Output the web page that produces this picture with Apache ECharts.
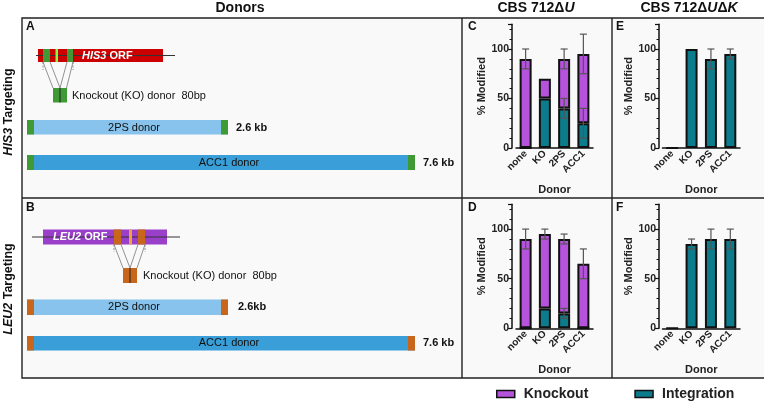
<!DOCTYPE html>
<html><head><meta charset="utf-8">
<script src="https://cdn.jsdelivr.net/npm/echarts@6/dist/echarts.min.js"></script>
<style>html,body{margin:0;padding:0;background:#fff}#c{width:764px;height:402px}</style>
</head><body><div id="c"></div>
<script>
// ---- data ----
const categories = ['none', 'KO', '2PS', 'ACC1'];
// Panel C (CBS 712ΔU, HIS3)
const integC = [0, 50, 40, 25];
const knockC = [90, 20, 50, 70];
const errTopC = [[80, 100], null, [80, 100], [75, 115]];
const errIntC = [null, null, [30, 50], [10, 40]];
// Panel E (CBS 712ΔUΔK, HIS3)
const integE = [0, 100, 90, 95];
const errE = [null, null, [80, 100], [90, 100]];
// Panel D (CBS 712ΔU, LEU2)
const integD = [0, 20, 15, 0];
const knockD = [90, 75, 75, 65];
const errTopD = [[80, 100], [90, 100], [85, 95], [50, 80]];
const errIntD = [null, null, [10, 20], null];
// Panel F (CBS 712ΔUΔK, LEU2)
const integF = [0, 85, 90, 90];
const errF = [null, [80, 90], [80, 100], [80, 100]];
const yTicks = [0, 50, 100];

// ---- style ----
const FONT = '"Liberation Sans", Arial, sans-serif';
const PURPLE = '#b553dc', TEAL = '#0c7b8b';
const chart = echarts.init(document.getElementById('c'), null, {renderer: 'canvas'});

const grids = [
  {left: 516, top: 24.25, width: 77, height: 123.75, off: 4},
  {left: 662.5, top: 24.25, width: 77.5, height: 123.75, off: 3.5},
  {left: 516, top: 204.3, width: 77, height: 124, off: 4},
  {left: 662.5, top: 204.3, width: 77.5, height: 124, off: 3.5}
];

function xAx(i) {
  return {type: 'category', gridIndex: i, data: categories,
    axisLine: {lineStyle: {color: '#111', width: 1.5}},
    axisTick: {alignWithLabel: true, length: 4, lineStyle: {color: '#111', width: 1.2}},
    axisLabel: {rotate: 45, margin: 4, fontFamily: FONT, fontWeight: 'bold', fontSize: 10, color: '#222'},
    name: 'Donor', nameLocation: 'middle', nameGap: 36,
    nameTextStyle: {fontFamily: FONT, fontWeight: 'bold', fontSize: 11, color: '#222'}};
}
function yAx(i) {
  return {type: 'value', gridIndex: i, min: 0, max: 125, interval: 50, offset: grids[i].off,
    splitLine: {show: false},
    axisLine: {show: true, lineStyle: {color: '#111', width: 1.5}},
    axisTick: {show: true, length: 4, lineStyle: {color: '#111', width: 1.2}},
    minorTick: {show: true, splitNumber: 5, length: 2.5, lineStyle: {color: '#111', width: 1}},
    axisLabel: {margin: 3, fontFamily: FONT, fontWeight: 'bold', fontSize: 10.5, color: '#222',
      formatter: v => (yTicks.indexOf(v) >= 0 ? String(v) : '')},
    name: '% Modified', nameLocation: 'middle', nameGap: 22,
    nameTextStyle: {fontFamily: FONT, fontWeight: 'bold', fontSize: 11, color: '#222'}};
}
function barS(name, data, color, i) {
  return {type: 'bar', name: name, data: data, xAxisIndex: i, yAxisIndex: i, stack: 's' + i,
    barWidth: 12, itemStyle: {color: color, borderColor: '#111', borderWidth: 2}, z: 2};
}
function errS(arr, i) {
  const d = [];
  arr.forEach((e, k) => { if (e) d.push([k, e[0], e[1]]); });
  return {type: 'custom', xAxisIndex: i, yAxisIndex: i, data: d, z: 5, silent: true,
    renderItem: function (params, api) {
      const x = api.value(0);
      const p1 = api.coord([x, api.value(1)]), p2 = api.coord([x, api.value(2)]);
      const w = 3.5, st = {stroke: '#555', lineWidth: 1.2};
      return {type: 'group', children: [
        {type: 'line', shape: {x1: p1[0], y1: p1[1], x2: p2[0], y2: p2[1]}, style: st},
        {type: 'line', shape: {x1: p1[0] - w, y1: p1[1], x2: p1[0] + w, y2: p1[1]}, style: st},
        {type: 'line', shape: {x1: p2[0] - w, y1: p2[1], x2: p2[0] + w, y2: p2[1]}, style: st}
      ]};
    }};
}

// ---- schematic graphics ----
const G = [];
const tx = (x, y, text, o) => G.push(Object.assign({type: 'text', x: x, y: y, z: 10,
  style: Object.assign({text: text, fontFamily: FONT, fontSize: 11, fill: '#111', align: 'left', verticalAlign: 'middle'}, (o && o.style) || {})},
  o && o.rotation !== undefined ? {rotation: o.rotation} : {}));
const rc = (x, y, w, h, fill, z) => G.push({type: 'rect', z: z || 3, shape: {x: x, y: y, width: w, height: h}, style: {fill: fill}});
const ln = (x1, y1, x2, y2, stroke, lw, dash, z) => G.push({type: 'line', z: z || 4, shape: {x1, y1, x2, y2},
  style: {stroke: stroke, lineWidth: lw, lineDash: dash || null}});

// panels background + borders
G.push({type: 'rect', z: 0, shape: {x: 22, y: 18, width: 745, height: 360}, style: {fill: '#f9f9f9', stroke: '#222', lineWidth: 1.4}});
ln(462, 18, 462, 378, '#222', 1.4, null, 1);
ln(612, 18, 612, 378, '#222', 1.4, null, 1);
ln(22, 198, 764, 198, '#222', 1.4, null, 1);

// titles
tx(240, 8, 'Donors', {style: {fontSize: 14, fontWeight: 'bold', align: 'center'}});
tx(536, 8, '{b|CBS 712Δ}{i|U}', {style: {align: 'center', rich: {
  b: {fontFamily: FONT, fontSize: 14, fontWeight: 'bold', fill: '#111'},
  i: {fontFamily: FONT, fontSize: 14, fontWeight: 'bold', fontStyle: 'italic', fill: '#111'}}}});
tx(689, 8, '{b|CBS 712Δ}{i|U}{b|Δ}{i|K}', {style: {align: 'center', rich: {
  b: {fontFamily: FONT, fontSize: 14, fontWeight: 'bold', fill: '#111'},
  i: {fontFamily: FONT, fontSize: 14, fontWeight: 'bold', fontStyle: 'italic', fill: '#111'}}}});
// row labels
const rowRich = {b: {fontFamily: FONT, fontSize: 12.5, fontWeight: 'bold', fill: '#111'},
  i: {fontFamily: FONT, fontSize: 12.5, fontWeight: 'bold', fontStyle: 'italic', fill: '#111'}};
tx(9, 112, '{i|HIS3}{b| Targeting}', {rotation: Math.PI / 2, style: {align: 'center', rich: rowRich}});
tx(9, 289, '{i|LEU2}{b| Targeting}', {rotation: Math.PI / 2, style: {align: 'center', rich: rowRich}});
// panel letters
const L = {fontSize: 12, fontWeight: 'bold'};
tx(26, 27, 'A', {style: L}); tx(26, 208, 'B', {style: L});
tx(468, 27, 'C', {style: L}); tx(468, 208, 'D', {style: L});
tx(616, 27, 'E', {style: L}); tx(616, 208, 'F', {style: L});

// HIS3 schematic
ln(36, 55.5, 175, 55.5, '#333', 1);
rc(38, 49, 125, 13, '#cc0000');
rc(43, 49, 7, 13, '#3f9a35', 4); rc(55.5, 49, 2.5, 13, '#80ff40', 4); rc(67, 49, 6, 13, '#3f9a35', 4);
tx(82, 55.5, '{i|HIS3}{n| ORF}', {style: {rich: {
  i: {fontFamily: FONT, fontSize: 11, fontWeight: 'bold', fontStyle: 'italic', fill: '#fff'},
  n: {fontFamily: FONT, fontSize: 11, fontWeight: 'bold', fill: '#fff'}}}});
ln(43, 62, 53, 88, '#777', 0.8); ln(50, 62, 60, 88, '#777', 0.8);
ln(67, 62, 60, 88, '#777', 0.8); ln(73, 62, 66.5, 88, '#777', 0.8);
ln(43, 62, 43, 70, '#777', 0.8, [2, 1.5]); ln(73, 62, 73, 70, '#777', 0.8, [2, 1.5]);
rc(53, 88, 14, 14.5, '#3f9a35');
ln(60, 88, 60, 102.5, '#222', 1);
tx(72, 96, 'Knockout (KO) donor  80bp');
rc(27, 120, 201, 14.5, '#87c3ec');
rc(27, 120, 7, 14.5, '#3f9a35', 4); rc(221, 120, 7, 14.5, '#3f9a35', 4);
tx(134, 127.5, '2PS donor', {style: {align: 'center'}});
tx(236, 127.5, '2.6 kb', {style: {fontWeight: 'bold'}});
rc(27, 155, 388, 15, '#3a9ed8');
rc(27, 155, 7, 15, '#3f9a35', 4); rc(408, 155, 7, 15, '#3f9a35', 4);
tx(229, 162.5, 'ACC1 donor', {style: {align: 'center'}});
tx(423, 162.5, '7.6 kb', {style: {fontWeight: 'bold'}});

// LEU2 schematic
ln(32, 237, 180, 237, '#333', 1);
rc(43, 229.5, 124, 15, '#9a3fc9');
rc(114, 229.5, 7, 15, '#c8661c', 4); rc(129, 229.5, 3, 15, '#f4a03c', 4); rc(138, 229.5, 7, 15, '#c8661c', 4);
tx(53, 237, '{i|LEU2}{n| ORF}', {style: {rich: {
  i: {fontFamily: FONT, fontSize: 11, fontWeight: 'bold', fontStyle: 'italic', fill: '#fff'},
  n: {fontFamily: FONT, fontSize: 11, fontWeight: 'bold', fill: '#fff'}}}});
ln(114, 244.5, 123, 268, '#777', 0.8); ln(121, 244.5, 130, 268, '#777', 0.8);
ln(138, 244.5, 130, 268, '#777', 0.8); ln(145, 244.5, 137, 268, '#777', 0.8);
ln(114, 244.5, 114, 252, '#777', 0.8, [2, 1.5]); ln(145, 244.5, 145, 252, '#777', 0.8, [2, 1.5]);
rc(123, 268, 14, 15, '#c8661c');
ln(130, 268, 130, 283, '#222', 1);
tx(143, 275.5, 'Knockout (KO) donor  80bp');
rc(27, 299.5, 201, 15.5, '#87c3ec');
rc(27, 299.5, 7, 15.5, '#c8661c', 4); rc(221, 299.5, 7, 15.5, '#c8661c', 4);
tx(134, 307, '2PS donor', {style: {align: 'center'}});
tx(238, 307, '2.6kb', {style: {fontWeight: 'bold'}});
rc(27, 336, 388, 14.5, '#3a9ed8');
rc(27, 336, 7, 14.5, '#c8661c', 4); rc(408, 336, 7, 14.5, '#c8661c', 4);
tx(229, 343, 'ACC1 donor', {style: {align: 'center'}});
tx(423, 343, '7.6 kb', {style: {fontWeight: 'bold'}});

const option = {
  animation: false,
  backgroundColor: '#fff',
  grid: grids.map(g => ({left: g.left, top: g.top, width: g.width, height: g.height})),
  xAxis: [0, 1, 2, 3].map(xAx),
  yAxis: [0, 1, 2, 3].map(yAx),
  legend: {left: 491, top: 382, itemWidth: 18, itemHeight: 7, itemGap: 46, icon: 'rect',
    data: ['Knockout', 'Integration'],
    itemStyle: {borderColor: '#111', borderWidth: 1.5},
    textStyle: {fontFamily: FONT, fontWeight: 'bold', fontSize: 14, color: '#222', padding: [0, 0, 0, 4]}},
  series: [
    barS('Integration', integC, TEAL, 0), barS('Knockout', knockC, PURPLE, 0),
    errS(errTopC, 0), errS(errIntC, 0),
    barS('Integration', integE, TEAL, 1), errS(errE, 1),
    barS('Integration', integD, TEAL, 2), barS('Knockout', knockD, PURPLE, 2),
    errS(errTopD, 2), errS(errIntD, 2),
    barS('Integration', integF, TEAL, 3), errS(errF, 3)
  ],
  graphic: G
};
chart.setOption(option);
</script></body></html>
